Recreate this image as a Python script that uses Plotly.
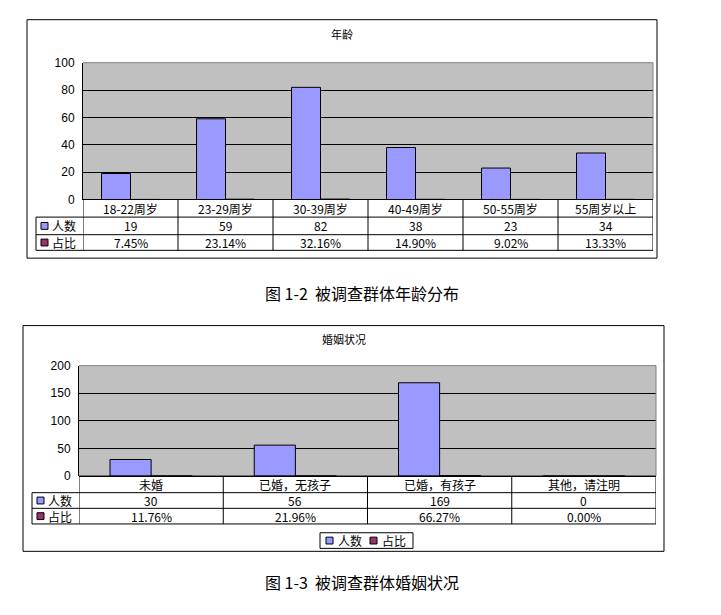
import plotly.graph_objects as go

W, H = 721, 615

age_labels = ["18-22周岁", "23-29周岁", "30-39周岁", "40-49周岁", "50-55周岁", "55周岁以上"]
age_counts = [19, 59, 82, 38, 23, 34]
age_share = [0.0745, 0.2314, 0.3216, 0.1490, 0.0902, 0.1333]

marriage_labels = ["未婚", "已婚，无孩子", "已婚，有孩子", "其他，请注明"]
marriage_counts = [30, 56, 169, 0]
marriage_share = [0.1176, 0.2196, 0.6627, 0.0]

series_names = ["人数", "占比"]
series_colors = ["#9999FF", "#993366"]

FONT = "Noto Sans CJK SC"


def px(x):
    return x / W


def py(y):
    return 1 - y / H


fig = go.Figure()
shapes = []
annots = []


def key_box(x, cy, color):
    shapes.append(dict(type="rect", xref="paper", yref="paper",
                       x0=px(x), x1=px(x + 7), y0=py(cy - 3.5), y1=py(cy + 3.5),
                       fillcolor=color, line=dict(color="black", width=1)))


def add_chart(n, labels, counts, share, box, plot, rows, legcol, title, title_y,
              ymax, dtick, barw):
    xa = "x" if n == 1 else "x%d" % n
    ya = "y" if n == 1 else "y%d" % n
    for i, (vals, name, col) in enumerate(zip([counts, share], series_names, series_colors)):
        fig.add_trace(go.Bar(
            x=list(range(len(labels))), y=vals, name=name,
            marker=dict(color=col, line=dict(color="black", width=1)),
            width=barw, offset=-barw if i == 0 else 0,
            xaxis=xa, yaxis=ya, showlegend=False, hoverinfo="skip"))
    left, top, right, bottom = plot
    fig.layout["xaxis" if n == 1 else "xaxis%d" % n] = dict(
        domain=[px(left), px(right)], range=[-0.5, len(labels) - 0.5],
        showticklabels=False, showgrid=False, zeroline=False, anchor=ya, fixedrange=True)
    fig.layout["yaxis" if n == 1 else "yaxis%d" % n] = dict(
        domain=[py(bottom), py(top)], range=[0, ymax], dtick=dtick,
        showgrid=True, gridcolor="black", gridwidth=1,
        zeroline=True, zerolinecolor="black", zerolinewidth=1,
        showline=True, linecolor="black", linewidth=1,
        ticks="", ticklabelstandoff=5, anchor=xa, fixedrange=True,
        tickfont=dict(family="Liberation Sans", size=12, color="black"))

    # outer chart box
    bx0, by0, bx1, by1 = box
    shapes.append(dict(type="rect", xref="paper", yref="paper",
                       x0=px(bx0), x1=px(bx1), y0=py(by0), y1=py(by1),
                       line=dict(color="black", width=1), layer="below"))
    # plot area border top/right
    shapes.append(dict(type="line", xref="paper", yref="paper", x0=px(left), x1=px(right),
                       y0=py(top), y1=py(top), line=dict(color="#808080", width=1)))
    shapes.append(dict(type="line", xref="paper", yref="paper", x0=px(right), x1=px(right),
                       y0=py(top), y1=py(bottom), line=dict(color="#808080", width=1)))

    r0, r1, r2, r3 = rows
    # horizontal table lines
    for yy, x0 in [(r0, left), (r1, legcol), (r2, legcol), (r3, legcol)]:
        shapes.append(dict(type="line", xref="paper", yref="paper", x0=px(x0), x1=px(right),
                           y0=py(yy), y1=py(yy), line=dict(color="black", width=1)))
    # vertical table lines
    shapes.append(dict(type="line", xref="paper", yref="paper", x0=px(legcol), x1=px(legcol),
                       y0=py(r1), y1=py(r3), line=dict(color="black", width=1)))
    for k in range(len(labels) + 1):
        shapes.append(dict(type="line", xref=xa, yref="paper", x0=k - 0.5, x1=k - 0.5,
                           y0=py(r0), y1=py(r3), line=dict(color="black", width=1)))

    tf = dict(family=FONT, size=12, color="black")
    for k, lab in enumerate(labels):
        annots.append(dict(x=k, y=py((r0 + r1) / 2), xref=xa, yref="paper", text=lab,
                           showarrow=False, font=tf, yanchor="middle"))
        annots.append(dict(x=k, y=py((r1 + r2) / 2), xref=xa, yref="paper", text=str(counts[k]),
                           showarrow=False, font=tf, yanchor="middle"))
        annots.append(dict(x=k, y=py((r2 + r3) / 2), xref=xa, yref="paper",
                           text=f"{share[k]:.2%}", showarrow=False, font=tf, yanchor="middle"))
    # row legend keys
    for j, (ra, rb) in enumerate([(r1, r2), (r2, r3)]):
        cy = (ra + rb) / 2
        key_box(legcol + 5, cy, series_colors[j])
        annots.append(dict(x=px(legcol + 14), y=py(cy), xref="paper", yref="paper",
                           text=series_names[j], showarrow=False, xanchor="left",
                           yanchor="middle", font=dict(family=FONT, size=12, color="black")))
    annots.append(dict(x=px((bx0 + bx1) / 2), y=py(title_y), xref="paper", yref="paper",
                       text=title, showarrow=False, yanchor="middle",
                       font=dict(family=FONT, size=11, color="black")))


add_chart(1, age_labels, age_counts, age_share,
          box=(27, 13, 657, 257), plot=(83, 57, 653, 197), rows=(197, 215, 233, 249),
          legcol=36, title="年龄", title_y=28, ymax=100, dtick=20, barw=0.305)
add_chart(2, marriage_labels, marriage_counts, marriage_share,
          box=(23, 326, 664, 557), plot=(79, 367, 656, 480), rows=(480, 497, 513, 529),
          legcol=32, title="婚姻状况", title_y=340, ymax=200, dtick=50, barw=0.285)

# bottom legend of chart 2
shapes.append(dict(type="rect", xref="paper", yref="paper",
                   x0=px(320), x1=px(413), y0=py(538), y1=py(554),
                   fillcolor="white", line=dict(color="black", width=1)))
for j, (kx, tx) in enumerate([(326, 336), (370, 380)]):
    key_box(kx, 546, series_colors[j])
    annots.append(dict(x=px(tx), y=py(546), xref="paper", yref="paper",
                       text=series_names[j], showarrow=False, xanchor="left", yanchor="middle",
                       font=dict(family=FONT, size=12, color="black")))

cap_font = dict(family=FONT, size=16, color="black")
annots.append(dict(x=px(362), y=py(293), xref="paper", yref="paper", yanchor="middle",
                   text="图 1-2  被调查群体年龄分布", showarrow=False, font=cap_font))
annots.append(dict(x=px(362), y=py(588), xref="paper", yref="paper", yanchor="middle",
                   text="图 1-3  被调查群体婚姻状况", showarrow=False, font=cap_font))

fig.update_layout(
    width=W, height=H, margin=dict(l=0, r=0, t=0, b=0),
    paper_bgcolor="white", plot_bgcolor="#C0C0C0",
    barmode="overlay", shapes=shapes, annotations=annots, showlegend=False,
)

fig.write_html("out.html", config={"displayModeBar": False},
               post_script="document.body.style.margin='0px';")
